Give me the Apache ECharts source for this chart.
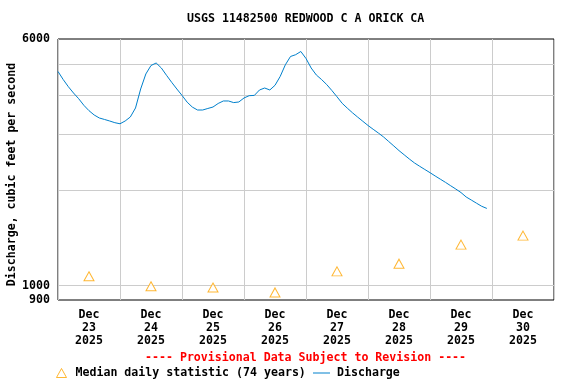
<!DOCTYPE html>
<html>
<head>
<meta charset="utf-8">
<script src="https://cdn.jsdelivr.net/npm/echarts@6/dist/echarts.min.js"></script>
<style>html,body{margin:0;padding:0;background:#fff;}#c{width:576px;height:384px;}</style>
</head>
<body>
<div id="c"></div>
<script>
// ---- data ----
const chartTitle = 'USGS 11482500 REDWOOD C A ORICK CA';
const footerText = '---- Provisional Data Subject to Revision ----';
const yAxisTitle = 'Discharge, cubic feet per second';
const dayMonths = ['Dec', 'Dec', 'Dec', 'Dec', 'Dec', 'Dec', 'Dec', 'Dec'];
const dayNumbers = ['23', '24', '25', '26', '27', '28', '29', '30'];
const dayYears = ['2025', '2025', '2025', '2025', '2025', '2025', '2025', '2025'];
// Hours since Dec 23 2025 00:00
const medianHours = [12, 36, 60, 84, 108, 132, 156, 180];
const medianValues = [1069, 995, 986, 951, 1108, 1172, 1346, 1437];
const dischargeStepHours = 2;
const dischargeValues = [
  4738, 4470, 4242, 4052, 3888, 3706, 3563, 3454, 3379, 3343, 3306, 3266,
  3240, 3306, 3404, 3634, 4172, 4653, 4949, 5040, 4860, 4609, 4380, 4172,
  3982, 3790, 3658, 3581, 3581, 3621, 3660, 3755, 3824, 3824, 3779, 3796,
  3908, 3974, 3982, 4142, 4202, 4142, 4286, 4569, 4974, 5284, 5353, 5479,
  5207, 4860, 4619, 4470, 4310, 4127, 3942, 3760, 3629, 3509, 3401, 3299,
  3200, 3113, 3030, 2945, 2849, 2757, 2666, 2586, 2508, 2437, 2379, 2324,
  2271, 2217, 2166, 2116, 2065, 2016, 1965, 1903, 1861, 1819, 1779, 1751
];
const yTickLabels = [900, 1000, 6000];
const yGridValues = [1000, 2000, 3000, 4000, 5000];
const xMinHour = 0, xMaxHour = 192, dayHours = 24;
const medianName = 'Median daily statistic (74 years)';
const dischargeName = 'Discharge';

// ---- chart ----
const FONT = "'DejaVu Sans Mono', monospace";
const FS = 11.6;
const LINE_COLOR = '#0080cc';
const dischargeData = dischargeValues.map((v, i) => [i * dischargeStepHours, v]);
const medianData = medianHours.map((h, i) => [h, medianValues[i]]);
const txt = {fontFamily: FONT, fontWeight: 'bold', fontSize: FS, color: '#000'};

const chart = echarts.init(document.getElementById('c'), null, {renderer: 'canvas'});
chart.setOption({
  animation: false,
  backgroundColor: '#fff',
  title: [
    {text: chartTitle, left: 187, top: 13, padding: 0, textStyle: txt},
    {text: footerText, left: 145, top: 352, padding: 0,
     textStyle: Object.assign({}, txt, {color: '#ff0000'})}
  ],
  legend: [
    {
      left: 56, top: 367, itemWidth: 10, itemHeight: 9, padding: 0,
      selectedMode: false, symbolKeepAspect: true,
      textStyle: Object.assign({}, txt, {padding: [0, 0, 0, 4]}),
      data: [{name: medianName, icon: 'triangle',
              itemStyle: {color: '#fff', borderColor: '#FFA500', borderWidth: 1}}]
    },
    {
      left: 313, top: 367, itemWidth: 17, itemHeight: 1, padding: 0,
      selectedMode: false,
      textStyle: Object.assign({}, txt, {padding: [0, 0, 0, 2]}),
      data: [{name: dischargeName, icon: 'rect',
              itemStyle: {color: LINE_COLOR, borderWidth: 0},
              lineStyle: {color: LINE_COLOR, width: 1}}]
    }
  ],
  grid: {left: 58, top: 39, width: 496, height: 261, containLabel: false, outerBoundsMode: 'none',
         show: true, borderColor: '#000', borderWidth: 1, backgroundColor: 'transparent'},
  xAxis: {
    type: 'value', min: xMinHour, max: xMaxHour, interval: dayHours,
    axisLine: {show: false}, axisTick: {show: false},
    splitLine: {show: true, lineStyle: {color: '#cccccc', width: 1}},
    axisLabel: Object.assign({
      customValues: medianHours, margin: 8, lineHeight: 13,
      formatter: function (v) {
        const i = medianHours.indexOf(v);
        return i < 0 ? '' : dayMonths[i] + '\n' + dayNumbers[i] + '\n' + dayYears[i];
      }
    }, txt)
  },
  yAxis: {
    type: 'log', logBase: 10, min: 900, max: 6000,
    name: yAxisTitle, nameLocation: 'middle', nameGap: 40, nameRotate: 90,
    nameMoveOverlap: false,
    nameTextStyle: Object.assign({}, txt, {padding: [0, 10, 0, 0]}),
    axisLine: {show: false}, axisTick: {show: false},
    splitLine: {show: false},
    axisLabel: Object.assign({
      customValues: yTickLabels, margin: 8, hideOverlap: false,
      formatter: function (v) { return String(Math.round(v)); }
    }, txt)
  },
  series: [
    {
      name: '_grid', type: 'line', data: [], silent: true, z: 1,
      markLine: {
        silent: true, symbol: ['none', 'none'], z: 1, animation: false,
        label: {show: false},
        lineStyle: {color: '#cccccc', width: 1, type: 'solid'},
        data: yGridValues.map(v => ({yAxis: v}))
      }
    },
    {
      name: medianName, type: 'scatter', data: medianData, z: 4,
      symbol: 'triangle', symbolSize: [10, 9],
      itemStyle: {color: '#fff', borderColor: '#FFA500', borderWidth: 1}
    },
    {
      name: dischargeName, type: 'line', data: dischargeData, z: 3,
      symbol: 'none', showSymbol: false,
      lineStyle: {color: LINE_COLOR, width: 1},
      itemStyle: {color: LINE_COLOR}
    }
  ]
});
</script>
</body>
</html>
